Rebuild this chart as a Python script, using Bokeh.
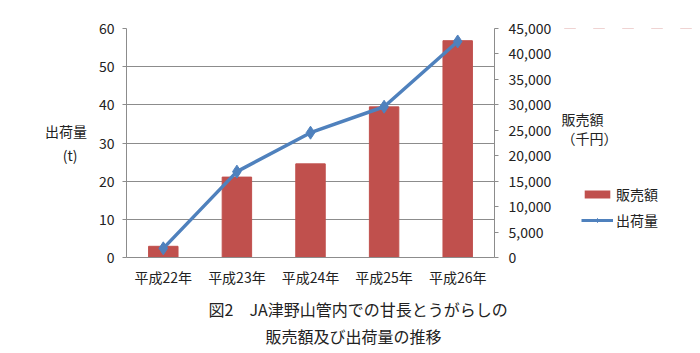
from bokeh.plotting import figure
from bokeh.layouts import row
from bokeh.models import Range1d, LinearAxis, FactorRange, Legend, LegendItem, NumeralTickFormatter, FixedTicker, ColumnDataSource, Title, Label
from bokeh.embed import file_html
from bokeh.resources import INLINE

years = ["平成22年", "平成23年", "平成24年", "平成25年", "平成26年"]
sales = [2200, 15800, 18400, 29600, 42600]       # 販売額 (千円)
shipment = [2.4, 22.5, 32.7, 39.5, 56.6]         # 出荷量 (t)
left_ticks = [0, 10, 20, 30, 40, 50, 60]
right_ticks = [0, 5000, 10000, 15000, 20000, 25000, 30000, 35000, 40000, 45000]

FONT = "Noto Sans CJK JP"
BAR = "#C0504D"
LINE = "#4F81BD"
TXT = "#222222"

p = figure(width=555, height=353, x_range=FactorRange(*years), y_range=Range1d(0, 60),
           output_backend="svg", toolbar_location=None,
           min_border_left=126, min_border_right=61, min_border_top=28, min_border_bottom=96)
p.extra_y_ranges = {"right": Range1d(0, 45000)}
p.outline_line_color = None
p.border_fill_color = "white"
p.background_fill_color = "white"

src = ColumnDataSource(dict(x=years, sales=sales, ship=shipment))
bars = p.vbar(x="x", top="sales", width=0.4, source=src, y_range_name="right", color=BAR)
ln = p.line(x="x", y="ship", source=src, line_color=LINE, line_width=3.5)
mk = p.scatter(x="x", y="ship", source=src, marker="diamond", size=13, color=LINE)

def style_axis(ax):
    ax.minor_tick_line_color = None
    ax.major_tick_out = 4
    ax.major_tick_in = 0
    ax.axis_line_color = "#8c8c8c"
    ax.major_tick_line_color = "#8c8c8c"
    ax.major_label_text_font = FONT
    ax.major_label_text_font_size = "14px"
    ax.major_label_text_color = TXT
    ax.axis_label_text_font = FONT
    ax.axis_label_text_font_size = "14px"
    ax.axis_label_text_font_style = "normal"
    ax.axis_label_text_color = TXT

ya = p.yaxis[0]
ya.ticker = FixedTicker(ticks=left_ticks)
style_axis(ya)
ya.major_label_standoff = 8
ya.axis_label = "出荷量\n(t)\u00a0\u00a0\u00a0"
ya.axis_label_orientation = "horizontal"
ya.axis_label_standoff = 9

ra = LinearAxis(y_range_name="right", ticker=FixedTicker(ticks=right_ticks),
                formatter=NumeralTickFormatter(format="0,0"))
style_axis(ra)
ra.major_label_standoff = 10
p.add_layout(ra, "right")

xa = p.xaxis[0]
style_axis(xa)
xa.major_tick_line_color = None
xa.major_label_standoff = 5

p.xgrid.grid_line_color = None
p.ygrid.grid_line_color = "#8c8c8c"
p.ygrid.ticker = FixedTicker(ticks=left_ticks)

t1 = Title(text="図2　JA津野山管内での甘長とうがらしの", align="left", offset=82,
           text_font=FONT, text_font_size="16px", text_font_style="normal", text_color=TXT, standoff=11)
t2 = Title(text="販売額及び出荷量の推移", align="left", offset=139,
           text_font=FONT, text_font_size="16px", text_font_style="normal", text_color=TXT, standoff=-9)
p.add_layout(t1, "below")
p.add_layout(t2, "below")

# side figure: right axis title and legend (its frame is aligned with the main frame)
q = figure(width=145, height=353, x_range=FactorRange(*years), y_range=Range1d(-2e6, -1e6),
           output_backend="svg", toolbar_location=None,
           min_border_left=0, min_border_right=0, min_border_top=28, min_border_bottom=96)
q.axis.visible = False
q.grid.grid_line_color = None
q.outline_line_color = None
q.border_fill_color = "white"
q.background_fill_color = "white"

# legend sources (same data, drawn outside the visible range of this side panel)
lb = q.vbar(x="x", top="sales", width=0.4, source=src, fill_color=BAR, line_color=None)
ll = q.line(x="x", y="ship", source=src, line_color=LINE, line_width=3)
lm = q.scatter(x="x", y="ship", source=src, marker="diamond", size=9, color=LINE)

for t, yy in [("販売額", 257 - 118), ("（千円）", 257 - 137)]:
    q.add_layout(Label(x=6, y=yy, x_units="screen", y_units="screen", text=t,
                       text_font=FONT, text_font_size="14px",
                       text_color=TXT, text_align="left", text_baseline="middle"))

legend = Legend(items=[LegendItem(label="販売額", renderers=[lb]),
                       LegendItem(label="出荷量", renderers=[ll, lm])],
                location=(26, 27), label_text_font=FONT, label_text_font_size="14px",
                label_text_color=TXT, label_standoff=3,
                glyph_width=32, glyph_height=10, spacing=6, padding=2, margin=0,
                border_line_color=None, background_fill_alpha=0)
q.add_layout(legend, "center")

layout = row(p, q, spacing=0)

open("out.html", "w").write(file_html(layout, INLINE))
